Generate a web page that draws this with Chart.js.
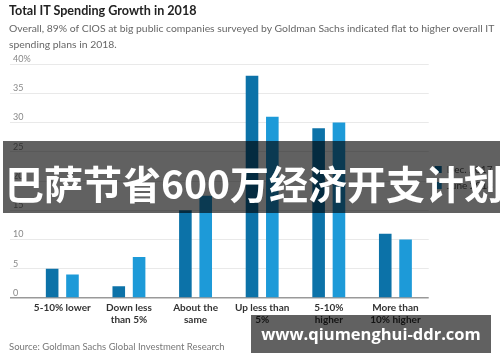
<!DOCTYPE html>
<html lang="en">
<head>
  <meta charset="UTF-8" />
  <title>Total IT Spending Growth in 2018</title>
  <script src="https://cdn.jsdelivr.net/npm/chart.js@4.4.1/dist/chart.umd.min.js"></script>
  <style>
    * { box-sizing: border-box; }
    body { margin: 0; width: 500px; height: 362px; position: relative; overflow: hidden; background: #fff; font-family: Lato, sans-serif; }
    #chart { position: absolute; left: 0; top: 0; }
    h1 { position: absolute; left: 9px; top: 3px; margin: 0; font-size: 12.6px; font-weight: 700; color: #222; }
    .sub { position: absolute; left: 9px; top: 20px; width: 492px; font-size: 10.4px; line-height: 16px; color: #666; }
    .src { position: absolute; left: 9px; top: 341px; font-size: 9.5px; color: #777; }
    .banner { position: absolute; left: 3px; top: 141px; width: 497px; height: 72px; background: rgba(0,0,0,0.62);
      color: #fff; font-family: "Noto Sans CJK SC", sans-serif; font-weight: 700; font-size: 39px; line-height: 82px;
      padding-left: 2px; white-space: nowrap; overflow: hidden; }
    .mark { position: absolute; left: 251px; top: 315px; width: 240px; height: 38px; background: rgba(0,0,0,0.62);
      color: #fff; font-family: "Open Sans", sans-serif; font-weight: 700; font-size: 16.5px; line-height: 38px;
      text-align: center; white-space: nowrap; }
  </style>
</head>
<body>
  <canvas id="chart" width="503" height="362"></canvas>
  <h1>Total IT Spending Growth in 2018</h1>
  <div class="sub">Overall, 89% of CIOS at big public companies surveyed by Goldman Sachs indicated flat to higher overall IT spending plans in 2018.</div>
  <div class="src">Source: Goldman Sachs Global Investment Research</div>
  <div class="banner">巴萨节省600万经济开支计划</div>
  <div class="mark">www.qiumenghui-ddr.com</div>

  <script>
    const categories = [['5-10% lower'], ['Down less', 'than 5%'], ['About the', 'same'], ['Up less than', '5%'], ['5-10%', 'higher'], ['More than', '10% higher']];
    const dec2017 = [5, 2, 15, 38, 29, 11];
    const june2018 = [4, 7, 17.5, 31, 30, 10];

    new Chart(document.getElementById('chart'), {
      type: 'bar',
      data: {
        labels: categories,
        datasets: [
          { label: 'Dec. 2017', data: dec2017, backgroundColor: '#0c72a8', categoryPercentage: 0.61, barPercentage: 0.62 },
          { label: 'June 2018', data: june2018, backgroundColor: '#1d9ad8', categoryPercentage: 0.61, barPercentage: 0.62 }
        ]
      },
      options: {
        responsive: false,
        animation: false,
        layout: { padding: { left: 10, top: 64, right: 0, bottom: 32 } },
        plugins: {
          tooltip: { enabled: false },
          legend: {
            position: 'right',
            align: 'start',
            title: { display: true, text: '', padding: { top: 80, bottom: 0 } },
            labels: { boxWidth: 7, boxHeight: 7, padding: 6, color: '#555', font: { family: 'Lato', size: 10 } }
          }
        },
        scales: {
          x: {
            grid: { display: false, drawTicks: false },
            border: { display: false },
            ticks: { color: '#333', padding: 4, font: { family: 'Lato', size: 10, weight: 700 } }
          },
          y: {
            min: 0,
            max: 40,
            border: { display: false },
            afterFit: (scale) => { scale.width = 19; },
            grid: {
              tickLength: 19,
              color: (c) => c.tick && c.tick.value === 0 ? '#999' : '#e9e9e9',
              lineWidth: (c) => c.tick && c.tick.value === 0 ? 1.5 : 1
            },
            ticks: {
              stepSize: 5,
              mirror: true,
              padding: -16,
              labelOffset: -5,
              color: '#888',
              font: { family: 'Lato', size: 9 },
              callback: (v) => v === 40 ? '40%' : v
            }
          }
        }
      }
    });
  </script>
</body>
</html>
